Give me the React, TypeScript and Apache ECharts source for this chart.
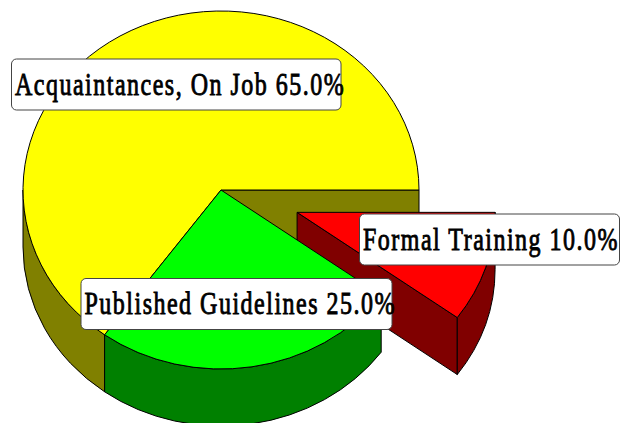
import React, { useEffect, useRef } from "react";
import * as echarts from "echarts";

const categories = ["Acquaintances, On Job", "Published Guidelines", "Formal Training"];
const shares = [65, 25, 10];
const explode = [0, 0, 80];
const topColors = ["#ffff00", "#00ff00", "#ff0000"];
const sideColors = ["#808000", "#008000", "#800000"];
const paintOrder = [1, 3, 2];
const labelBoxes = [
  [11.5, 59, 329.5, 51, 15, 1],
  [81, 278.5, 311, 51, 84.5, 1],
  [359.5, 214, 260, 51, 363, 1],
];

const CX = 221, CY = 190, RX = 198, RY = 179, DEPTH = 57;
const FONT_SIZE = 32, SCALE_X = 0.75;
const rad = (d: number) => (d * Math.PI) / 180;

function slicePaths(i: number) {
  const total = shares.reduce((a, b) => a + b, 0);
  const before = shares.slice(0, i).reduce((a, b) => a + b, 0);
  const a0 = (before / total) * 360;
  const a1 = ((before + shares[i]) / total) * 360;
  const mid = rad((a0 + a1) / 2);
  const cx = CX + explode[i] * Math.cos(mid);
  const cy = CY - explode[i] * Math.sin(mid) * (RY / RX);
  const p = (a: number, dy = 0) =>
    `${(cx + RX * Math.cos(rad(a))).toFixed(2)} ${(cy - RY * Math.sin(rad(a)) + dy).toFixed(2)}`;
  const faces: string[] = [];
  const cut = (a: number) =>
    `M${cx} ${cy}L${p(a)}L${p(a, DEPTH)}L${cx} ${cy + DEPTH}Z`;
  if (Math.cos(rad(a0)) > 0) faces.push(cut(a0));
  if (Math.cos(rad(a1)) < 0) faces.push(cut(a1));
  const s0 = Math.max(a0, 180), s1 = Math.min(a1, 360);
  if (s1 > s0) {
    const large = s1 - s0 > 180 ? 1 : 0;
    faces.push(
      `M${p(s0)}A${RX} ${RY} 0 ${large} 0 ${p(s1)}L${p(s1, DEPTH)}A${RX} ${RY} 0 ${large} 1 ${p(s0, DEPTH)}Z`
    );
  }
  const large = a1 - a0 > 180 ? 1 : 0;
  const top = `M${cx} ${cy}L${p(a0)}A${RX} ${RY} 0 ${large} 0 ${p(a1)}Z`;
  return { faces, top };
}

export default function App() {
  const ref = useRef<HTMLDivElement>(null);
  useEffect(() => {
    const chart = echarts.init(ref.current!, undefined, { renderer: "svg" });
    const total = shares.reduce((a, b) => a + b, 0);
    chart.setOption({
      animation: false,
      backgroundColor: "#ffffff",
      series: [
        {
          type: "custom",
          coordinateSystem: "none",
          silent: true,
          data: shares,
          renderItem: (params: any) => {
            const i = params.dataIndex;
            const { faces, top } = slicePaths(i);
            const z = paintOrder[i] * 10;
            const line = { stroke: "#000000", lineWidth: 1 };
            return {
              type: "group",
              children: [
                ...faces.map((d) => ({
                  type: "path",
                  z2: z,
                  shape: { pathData: d },
                  style: { fill: sideColors[i], ...line },
                })),
                {
                  type: "path",
                  z2: z + 1,
                  shape: { pathData: top },
                  style: { fill: topColors[i], ...line },
                },
              ],
            };
          },
        },
        {
          type: "custom",
          coordinateSystem: "none",
          silent: true,
          z: 5,
          data: categories,
          renderItem: (params: any) => {
            const i = params.dataIndex;
            const [x, y, w, h, tx] = labelBoxes[i];
            return {
              type: "group",
              children: [
                {
                  type: "rect",
                  z2: 100,
                  shape: { x, y, width: w, height: h, r: 5 },
                  style: { fill: "#ffffff", stroke: "#444444", lineWidth: 1 },
                },
                {
                  type: "text",
                  z2: 101,
                  x: tx,
                  y: y + h / 2 - 0.5,
                  scaleX: SCALE_X,
                  style: {
                    text: `${categories[i]} ${((shares[i] / total) * 100).toFixed(1)}%`,
                    x: 0,
                    y: 0,
                    fill: "#000000",
                    stroke: "#000000",
                    lineWidth: 0.9,
                    font: `${FONT_SIZE}px "Liberation Serif"`,
                    textAlign: "left",
                    textVerticalAlign: "middle",
                  },
                },
              ],
            };
          },
        },
      ],
    });
    return () => chart.dispose();
  }, []);
  return (
    <div
      ref={ref}
      style={{ position: "absolute", left: 0, top: 0, width: 623, height: 423, letterSpacing: "2px" }}
    />
  );
}
